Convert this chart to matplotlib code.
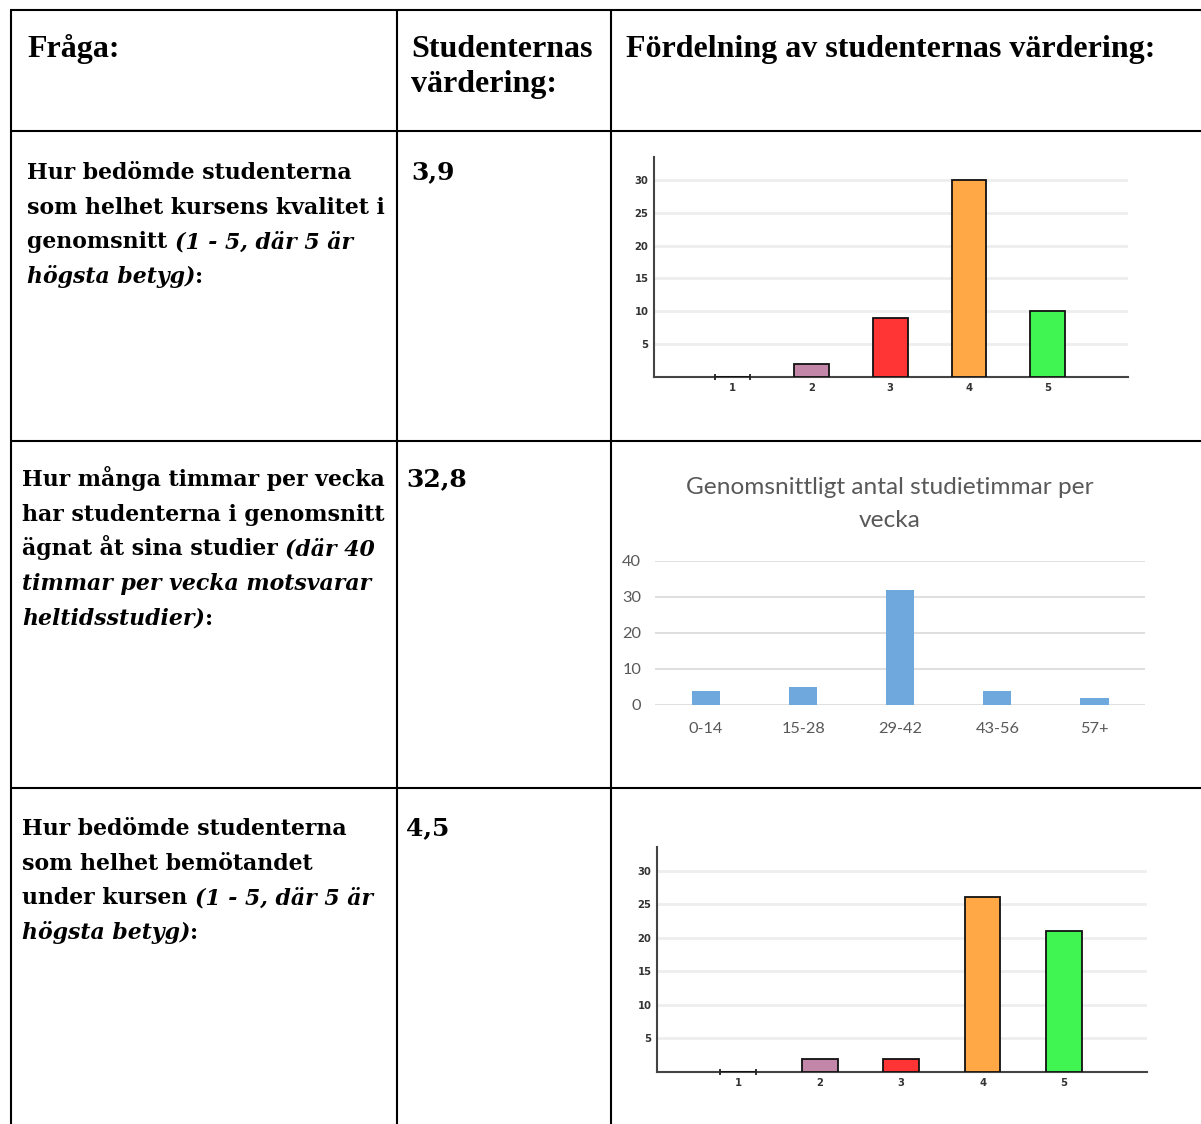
import numpy as np
import matplotlib
matplotlib.use("Agg")
import matplotlib.pyplot as plt

W, H = 1201, 1124

# table text
header_first = ["Fråga:", "Studenternas", "Fördelning av studenternas värdering:"]
header_second = ["", "värdering:", ""]
averages = ["3,9", "32,8", "4,5"]
questions = [
    [[("Hur bedömde studenterna", "normal")],
     [("som helhet kursens kvalitet i", "normal")],
     [("genomsnitt ", "normal"), ("(1 - 5, där 5 är", "italic")],
     [("högsta betyg)", "italic"), (":", "normal")]],
    [[("Hur många timmar per vecka", "normal")],
     [("har studenterna i genomsnitt", "normal")],
     [("ägnat åt sina studier ", "normal"), ("(där 40", "italic")],
     [("timmar per vecka motsvarar", "italic")],
     [("heltidsstudier)", "italic"), (":", "normal")]],
    [[("Hur bedömde studenterna", "normal")],
     [("som helhet bemötandet", "normal")],
     [("under kursen ", "normal"), ("(1 - 5, där 5 är", "italic")],
     [("högsta betyg)", "italic"), (":", "normal")]],
]

# chart data
rating_labels = ["1", "2", "3", "4", "5"]
quality_counts = [0, 2, 9, 30, 10]
treatment_counts = [0, 2, 2, 26, 21]
rating_colors = ["#9c9cff", "#c287a8", "#ff3434", "#ffa845", "#40f552"]
hour_bins = ["0-14", "15-28", "29-42", "43-56", "57+"]
hour_counts = [4, 5, 32, 4, 2]
hours_title = ["Genomsnittligt antal studietimmar per", "vecka"]

SERIF = "DejaVu Serif"

fig = plt.figure(figsize=(W / 100, H / 100), dpi=100)
tab = fig.add_axes([0, 0, 1, 1])
tab.set_xlim(0, W)
tab.set_ylim(H, 0)
tab.axis("off")

# grid of the table
lw = 1.5
for y in [10, 131, 441, 788]:
    tab.plot([10, W], [y, y], color="black", lw=lw, solid_capstyle="butt")
for x in [11, 397, 611]:
    tab.plot([x, x], [10, H], color="black", lw=lw, solid_capstyle="butt")

# header
for x, t1, t2 in zip([27, 411, 626], header_first, header_second):
    tab.text(x, 57, t1, family="Liberation Serif", fontweight="bold",
             fontsize=23, va="baseline")
    if t2:
        tab.text(x, 92, t2, family="Liberation Serif", fontweight="bold",
                 fontsize=23, va="baseline")


def rich_line(x, y, segments, size=15.8):
    prev = None
    for txt, style in segments:
        kw = dict(family=SERIF, fontweight="bold", fontstyle=style,
                  fontsize=size, ha="left", va="bottom")
        if prev is None:
            prev = tab.text(x, y, txt, **kw)
        else:
            prev = tab.annotate(txt, xy=(1, 0), xycoords=prev, **kw)


row_tops = [184, 491, 840]
row_x = [27, 22, 22]
val_x = [411, 406, 406]
for r, lines in enumerate(questions):
    for i, segs in enumerate(lines):
        rich_line(row_x[r], row_tops[r] + i * 34.7, segs)
    rich_line(val_x[r], row_tops[r], [(averages[r], "normal")], size=18)


def px_axes(left, top, right, bottom):
    return fig.add_axes([left / W, 1 - bottom / H, (right - left) / W, (bottom - top) / H])


def rating_chart(ax, counts):
    x = np.arange(1, len(counts) + 1)
    w = 0.44
    ax.bar(x, counts, width=w, color=rating_colors, edgecolor="#111111", lw=1.3, zorder=3)
    for xi, c in zip(x, counts):
        if c == 0:
            ax.plot([xi - w / 2, xi + w / 2], [0, 0], ls="none", marker="|",
                    ms=5, mew=1.3, color="#222222", zorder=4, clip_on=False)
    ax.set_xlim(0, 6.02)
    ax.set_ylim(0, 33.5)
    ax.set_xticks(x)
    ax.set_xticklabels(rating_labels)
    ax.set_yticks([5, 10, 15, 20, 25, 30])
    ax.grid(axis="y", color="#eeeeee", lw=2, zorder=0)
    for s in ["top", "right"]:
        ax.spines[s].set_visible(False)
    for s in ["left", "bottom"]:
        ax.spines[s].set_color("#444444")
        ax.spines[s].set_linewidth(1.5)
    ax.tick_params(length=0, labelsize=8, labelcolor="#333333", pad=4)
    ax.tick_params(axis="y", pad=4)
    for lab in ax.get_xticklabels() + ax.get_yticklabels():
        lab.set_fontweight("bold")
        lab.set_fontstretch("condensed")
    ax.set_facecolor("none")


ax1 = px_axes(654, 157, 1128, 377)
rating_chart(ax1, quality_counts)

ax3 = px_axes(657, 847, 1147, 1072)
rating_chart(ax3, treatment_counts)

# hours chart
ax2 = px_axes(655, 561, 1145, 705)
xh = np.arange(len(hour_bins))
ax2.bar(xh, hour_counts, width=0.29, color="#6fa8dc", zorder=3)
ax2.set_xlim(-0.525, 4.52)
ax2.set_ylim(0, 40)
ax2.set_yticks([0, 10, 20, 30, 40])
ax2.set_xticks(xh)
ax2.set_xticklabels(hour_bins)
ax2.grid(axis="y", color="#d9d9d9", lw=1.2, zorder=0)
for s in ax2.spines.values():
    s.set_visible(False)
ax2.tick_params(length=0, labelsize=11.8, labelcolor="#595959", pad=12)
ax2.tick_params(axis="y", pad=10)
for lab in ax2.get_xticklabels() + ax2.get_yticklabels():
    lab.set_family("Lato")
ax2.set_facecolor("none")
for line, yb in zip(hours_title, [494, 527]):
    tab.text(890, yb, line, family="Lato", fontsize=17.6, color="#595959",
             ha="center", va="baseline")

fig.savefig("out.png", dpi=100)
